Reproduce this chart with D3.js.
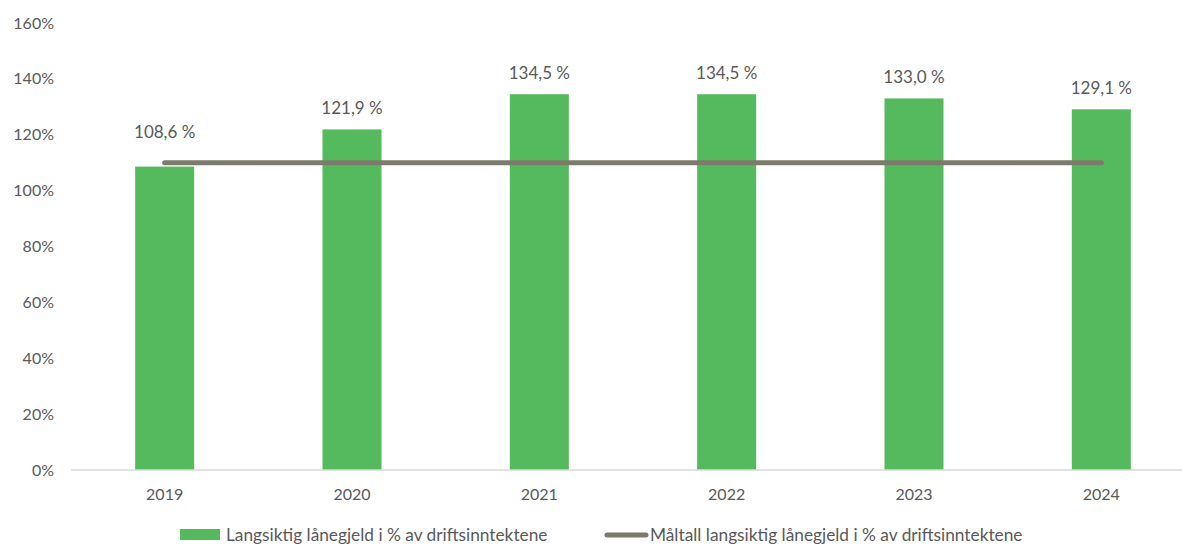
<!DOCTYPE html>
<html>
<head>
<meta charset="utf-8">
<script src="https://cdn.jsdelivr.net/npm/d3@7"></script>
<style>
  body { margin: 0; background: #fff; }
  text { font-family: Lato, "Open Sans", sans-serif; fill: #595959; }
</style>
</head>
<body>
<svg id="chart" width="1182" height="545"></svg>
<script>
// data
const years = ["2019", "2020", "2021", "2022", "2023", "2024"];
const debtShare = [108.6, 121.9, 134.5, 134.5, 133.0, 129.1];
const targetShare = [110, 110, 110, 110, 110, 110];
const yTicks = [0, 20, 40, 60, 80, 100, 120, 140, 160];
const legendNames = ["Langsiktig lånegjeld i % av driftsinntektene",
                     "Måltall langsiktig lånegjeld i % av driftsinntektene"];

let svg = d3.select("#chart");

let x = d3.scaleBand()
          .domain(years)
          .range([71, 1195])
          .paddingInner(0.685)
          .paddingOuter(0.3425);

let y = d3.scaleLinear()
          .domain([0, 160])
          .range([470, 23]);

// y tick labels (no grid lines)
svg.append('g')
   .selectAll('text')
   .data(yTicks)
   .enter()
   .append('text')
     .attr('x', 54)
     .attr('y', d => y(d))
     .attr('dy', '0.35em')
     .attr('text-anchor', 'end')
     .attr('font-size', 16)
     .text(d => d + '%');

// bars
svg.append('g')
   .selectAll('rect')
   .data(debtShare)
   .enter()
   .append('rect')
     .attr('x', (d, i) => x(years[i]))
     .attr('y', d => y(d))
     .attr('width', x.bandwidth())
     .attr('height', d => y(0) - y(d))
     .attr('fill', '#55b95d');

// baseline axis
svg.append('line')
   .attr('x1', 71).attr('x2', 1182)
   .attr('y1', y(0)).attr('y2', y(0))
   .attr('stroke', '#d9d9d9')
   .attr('stroke-width', 1.5);

// x labels
svg.append('g')
   .selectAll('text')
   .data(years)
   .enter()
   .append('text')
     .attr('x', d => x(d) + x.bandwidth() / 2)
     .attr('y', 500)
     .attr('text-anchor', 'middle')
     .attr('font-size', 16)
     .text(d => d);

// target line
let line = d3.line()
             .x((d, i) => x(years[i]) + x.bandwidth() / 2)
             .y(d => y(d));

svg.append('path')
   .datum(targetShare)
   .attr('d', line)
   .attr('fill', 'none')
   .attr('stroke', '#7b7b6c')
   .attr('stroke-width', 5)
   .attr('stroke-linecap', 'round');

// value labels, lifted above the target line when the bar is just under it
const fmt = v => v.toFixed(1).replace('.', ',') + ' %';
svg.append('g')
   .selectAll('text')
   .data(debtShare)
   .enter()
   .append('text')
     .attr('x', (d, i) => x(years[i]) + x.bandwidth() / 2)
     .attr('y', (d, i) => {
       let top = y(d);
       if (d < targetShare[i] + 5) top = Math.min(top, y(targetShare[i]) - 10);
       return top - 15;
     })
     .attr('text-anchor', 'middle')
     .attr('font-size', 17)
     .text(fmt);

// legend
let legend = svg.append('g');
legend.append('rect')
      .attr('x', 180).attr('y', 529)
      .attr('width', 40).attr('height', 11)
      .attr('fill', '#55b95d');
legend.append('text')
      .attr('x', 226).attr('y', 535)
      .attr('dy', '0.35em')
      .attr('font-size', 17.3)
      .text(legendNames[0]);
legend.append('line')
      .attr('x1', 607).attr('x2', 646)
      .attr('y1', 535).attr('y2', 535)
      .attr('stroke', '#7b7b6c')
      .attr('stroke-width', 5)
      .attr('stroke-linecap', 'round');
legend.append('text')
      .attr('x', 650).attr('y', 535)
      .attr('dy', '0.35em')
      .attr('font-size', 17.3)
      .text(legendNames[1]);
</script>
</body>
</html>
